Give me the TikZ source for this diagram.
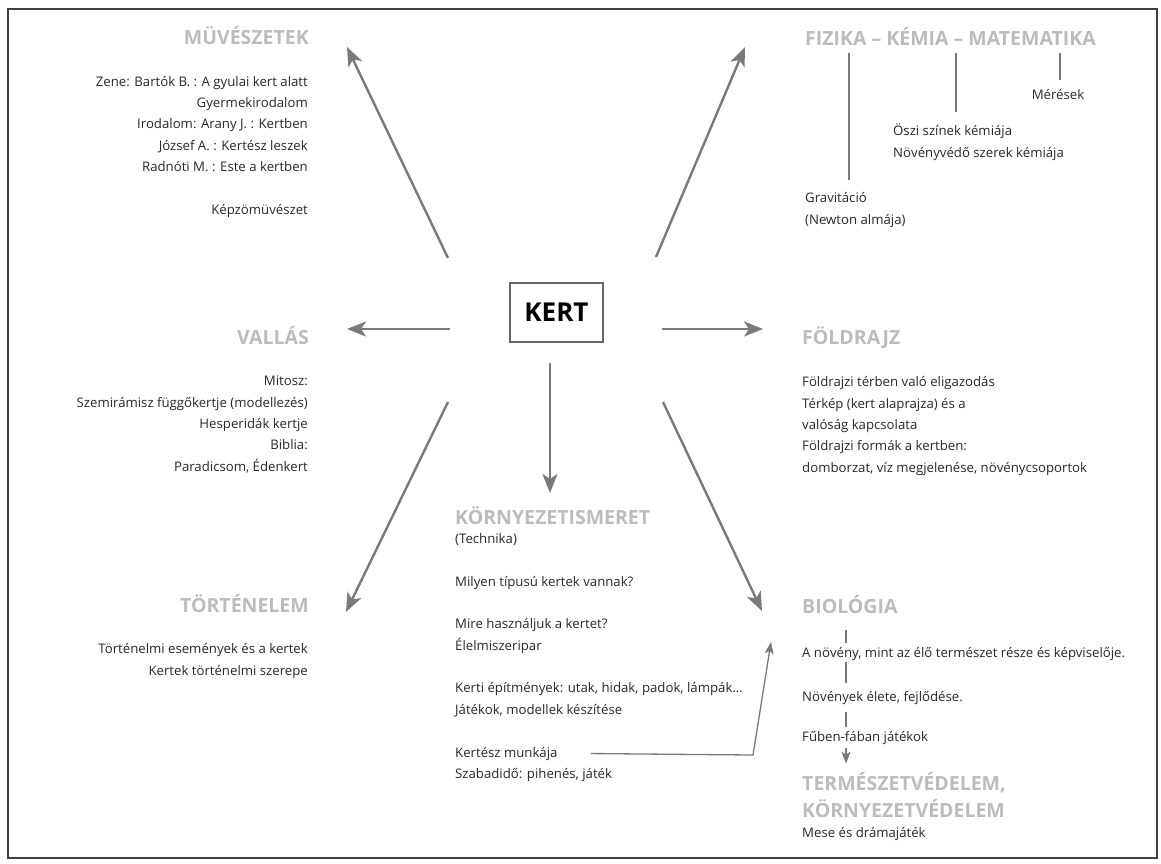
\documentclass[tikz,border=0pt]{standalone}
\usepackage{fontspec}
\setmainfont{Open Sans}
\usetikzlibrary{arrows.meta}
\definecolor{headgray}{RGB}{188,188,190}
\definecolor{textgray}{RGB}{40,40,40}
\definecolor{arrowgray}{RGB}{122,122,124}
\tikzset{
  heading/.style={font=\bfseries\fontsize{19.5}{27}\selectfont, text=headgray, inner sep=0pt},
  body/.style={font=\fontsize{13.2}{21.3}\selectfont, text=textgray, inner sep=0pt},
  bigarrow/.style={-{Stealth[length=19pt,width=15pt,inset=5pt]}, arrowgray, line width=2.4pt},
  thinarrow/.style={-{Stealth[length=12pt,width=9pt,inset=3pt]}, arrowgray, line width=1.3pt},
  tick/.style={arrowgray, line width=1.3pt}
}
\begin{document}
\begin{tikzpicture}[x=1pt,y=-1pt]
    \useasboundingbox (0,0) rectangle (1161,863);
    % frame
    \draw[line width=1.2pt, black!75] (8,9) rectangle (1157,858);
    % centre
    \node[draw=black!60, line width=1.5pt, minimum width=93pt, minimum height=59pt,
      font=\bfseries\fontsize{26}{26}\selectfont] (kert) at (556.5,312.5) {KERT};

    % arts (multi-line nodes sit on the baseline of their last line)
    \node[heading, anchor=base east] (muv) at (309,44) {MÜVÉSZETEK};
    \node[body, anchor=base east, align=right] (muvtext) at (308,214)
      {Zene: Bartók B. : A gyulai kert alatt\\Gyermekirodalom\\Irodalom: Arany J. : Kertben\\
       József A. : Kertész leszek\\Radnóti M. : Este a kertben\\[21.3pt]Képzömüvészet};

    % physics
    \node[heading, anchor=base west] (fiz) at (805,45) {FIZIKA -- KÉMIA -- MATEMATIKA};
    \node[body, anchor=base] (meres) at (1058,99) {Mérések};
    \node[body, anchor=base west, align=left] (kemia) at (893,157)
      {Öszi színek kémiája\\Növényvédő szerek kémiája};
    \node[body, anchor=base west, align=left] (grav) at (805,224)
      {Gravitáció\\(Newton almája)};
    \coordinate (f1) at (849,0);
    \coordinate (f2) at (956,0);
    \coordinate (f3) at (1060,0);
    \draw[tick] ([yshift=-8pt]fiz.south -| f1) -- ([yshift=12pt]grav.north -| f1);
    \draw[tick] ([yshift=-8pt]fiz.south -| f2) -- ([yshift=12pt]kemia.north -| f2);
    \draw[tick] ([yshift=-8pt]fiz.south -| f3) -- ([yshift=9pt]meres.north -| f3);

    % religion
    \node[heading, anchor=base east] (val) at (309,344) {VALLÁS};
    \node[body, anchor=base east, align=right] (valtext) at (308,471)
      {Mitosz:\\Szemirámisz függőkertje (modellezés)\\Hesperidák kertje\\Biblia:\\Paradicsom, Édenkert};

    % geography
    \node[heading, anchor=base west] (fold) at (802,344) {FÖLDRAJZ};
    \node[body, anchor=base west, align=left] (foldtext) at (802,472)
      {Földrajzi térben való eligazodás\\Térkép (kert alaprajza) és a\\valóság kapcsolata\\
       Földrajzi formák a kertben:\\domborzat, víz megjelenése, növénycsoportok};

    % environment
    \node[heading, anchor=base west] (korny) at (455,524) {KÖRNYEZETISMERET};
    \node[body, anchor=base west, align=left] (kornytext) at (455,714)
      {(Technika)\\[21.3pt]Milyen típusú kertek vannak?\\[21.3pt]Mire használjuk a kertet?\\
       Élelmiszeripar\\[21.3pt]Kerti építmények: utak, hidak, padok, lámpák\dots\\
       Játékok, modellek készítése};
    \node[body, anchor=base west] (munka) at (455,757) {Kertész munkája};
    \node[body, anchor=base west] (szabad) at (455,778) {Szabadidő: pihenés, játék};

    % history
    \node[heading, anchor=base east] (tort) at (309,612) {TÖRTÉNELEM};
    \node[body, anchor=base east, align=right] (torttext) at (308,675)
      {Történelmi események és a kertek\\Kertek történelmi szerepe};

    % biology
    \node[heading, anchor=base west] (bio) at (802,613) {BIOLÓGIA};
    \node[body, anchor=base west] (bio1) at (802,657) {A növény, mint az élő természet része és képviselője.};
    \node[body, anchor=base west] (bio2) at (802,701) {Növények élete, fejlődése.};
    \node[body, anchor=base west] (bio3) at (802,741) {Fűben-fában játékok};
    \node[heading, anchor=base west, align=left] (vedo) at (802,817)
      {TERMÉSZETVÉDELEM,\\KÖRNYEZETVÉDELEM};
    \node[body, anchor=base west] (mese) at (802,837) {Mese és drámajáték};
    \coordinate (bx) at (846,0);
    \draw[tick] ([yshift=-17pt]bio.south -| bx) -- ([yshift=4pt]bio1.north -| bx);
    \draw[tick] ([yshift=-2pt]bio1.south -| bx) -- ([yshift=8pt]bio2.north -| bx);
    \draw[tick] ([yshift=-8pt]bio2.south -| bx) -- ([yshift=4pt]bio3.north -| bx);
    \draw[thinarrow] ([yshift=-4pt]bio3.south -| bx) -- ([yshift=8pt]vedo.north -| bx);

    % arrows from the centre
    \coordinate (a1) at (448,258);  \coordinate (b1) at (347,47);
    \coordinate (a2) at (656,257);  \coordinate (b2) at (745,47);
    \coordinate (a3) at (450,329);  \coordinate (b3) at (347,329);
    \coordinate (a4) at (662,329);  \coordinate (b4) at (763,329);
    \coordinate (a5) at (550,363);  \coordinate (b5) at (550,493);
    \coordinate (a6) at (448,402);  \coordinate (b6) at (346,612);
    \coordinate (a7) at (663,402);  \coordinate (b7) at (762,611);
    \foreach \i in {1,...,7}
      \draw[bigarrow] (a\i) -- (b\i);

    % gardener's work to biology
    \coordinate (k1) at (753,755);
    \coordinate (k2) at (771,642);
    \draw[thinarrow] ([xshift=33pt]munka.east) -- (k1) -- (k2);
\end{tikzpicture}
\end{document}
